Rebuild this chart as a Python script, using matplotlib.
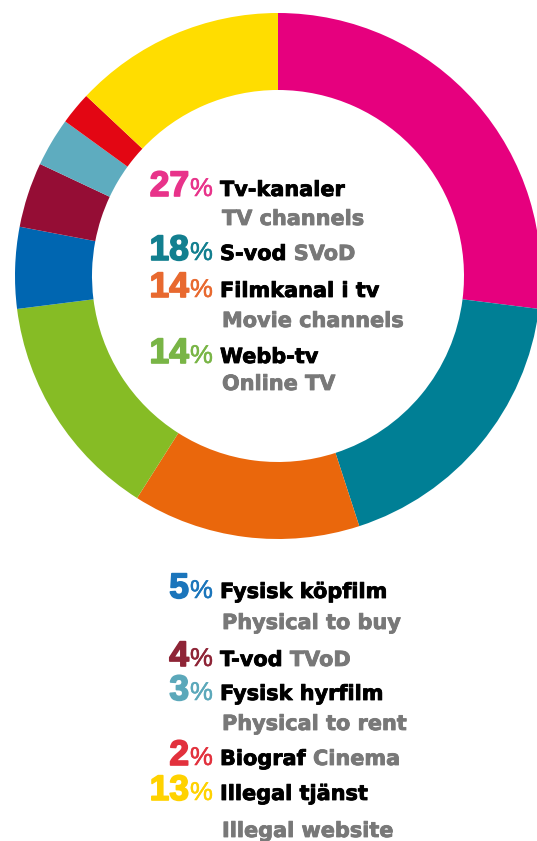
import matplotlib
matplotlib.use("Agg")
import matplotlib.pyplot as plt
import matplotlib.patheffects as pe

# ---- data ----
labels_sv = ["Tv-kanaler", "S-vod", "Filmkanal i tv", "Webb-tv", "Fysisk köpfilm",
             "T-vod", "Fysisk hyrfilm", "Biograf", "Illegal tjänst"]
labels_en = ["TV channels", "SVoD", "Movie channels", "Online TV", "Physical to buy",
             "TVoD", "Physical to rent", "Cinema", "Illegal website"]
values = [27, 18, 14, 14, 5, 4, 3, 2, 13]
en_inline = [False, True, False, False, False, True, False, True, False]

wedge_colors = ["#E6007E", "#007F95", "#EA670C", "#86BC25", "#0066B1",
                "#950D35", "#5EACBF", "#E30613", "#FFDD00"]
text_colors = ["#E8338A", "#127F8F", "#E8692F", "#79B546", "#1B75BB",
               "#8E2436", "#5BA8BA", "#E2313D", "#FFD200"]
GREY = "#787878"

W, H = 537, 841
fig = plt.figure(figsize=(W / 100, H / 100), dpi=100)
ax = fig.add_axes([0, 0, 1, 1])

cx, cy, R, ring = 278, H - 276, 263, 77
ax.pie(values, colors=wedge_colors, startangle=90, counterclock=False,
       radius=R, center=(cx, cy), frame=False,
       wedgeprops=dict(width=ring, linewidth=0))
ax.set_xlim(0, W)
ax.set_ylim(0, H)
ax.set_aspect("auto")
ax.axis("off")

# ---- labels ----
baselines = [196, 260, 297, 363, 598, 666, 700, 765, 800]   # first-line baselines (px from top)
second = {0: 225, 2: 327, 3: 390, 4: 629, 6: 730, 8: 837}     # second-line baselines

num_font = dict(family="Liberation Sans", weight="bold", size=25.5)
pct_font = dict(family="Liberation Sans", weight="normal", size=18.5)
lab_font = dict(family="DejaVu Sans", weight="bold", size=15)


def bold_fx(color, lw):
    return [pe.withStroke(linewidth=lw, foreground=color)]


for i, v in enumerate(values):
    yb = H - baselines[i]
    ax.text(189, yb, str(v), ha="right", va="baseline", color=text_colors[i],
            path_effects=bold_fx(text_colors[i], 1.2), **num_font)
    ax.text(190, yb, "%", ha="left", va="baseline", color=text_colors[i],
            path_effects=bold_fx(text_colors[i], 0.4), **pct_font)
    t = ax.text(220, yb, labels_sv[i], ha="left", va="baseline", color="black",
                path_effects=bold_fx("black", 0.6), **lab_font)
    if en_inline[i]:
        ax.annotate(" " + labels_en[i], xy=(1, 0), xycoords=t, ha="left", va="bottom",
                    color=GREY, path_effects=bold_fx(GREY, 0.6), **lab_font)
    else:
        ax.text(222, H - second[i], labels_en[i], ha="left", va="baseline",
                color=GREY, path_effects=bold_fx(GREY, 0.6), **lab_font)

fig.savefig("out.png", dpi=100, facecolor="white")
